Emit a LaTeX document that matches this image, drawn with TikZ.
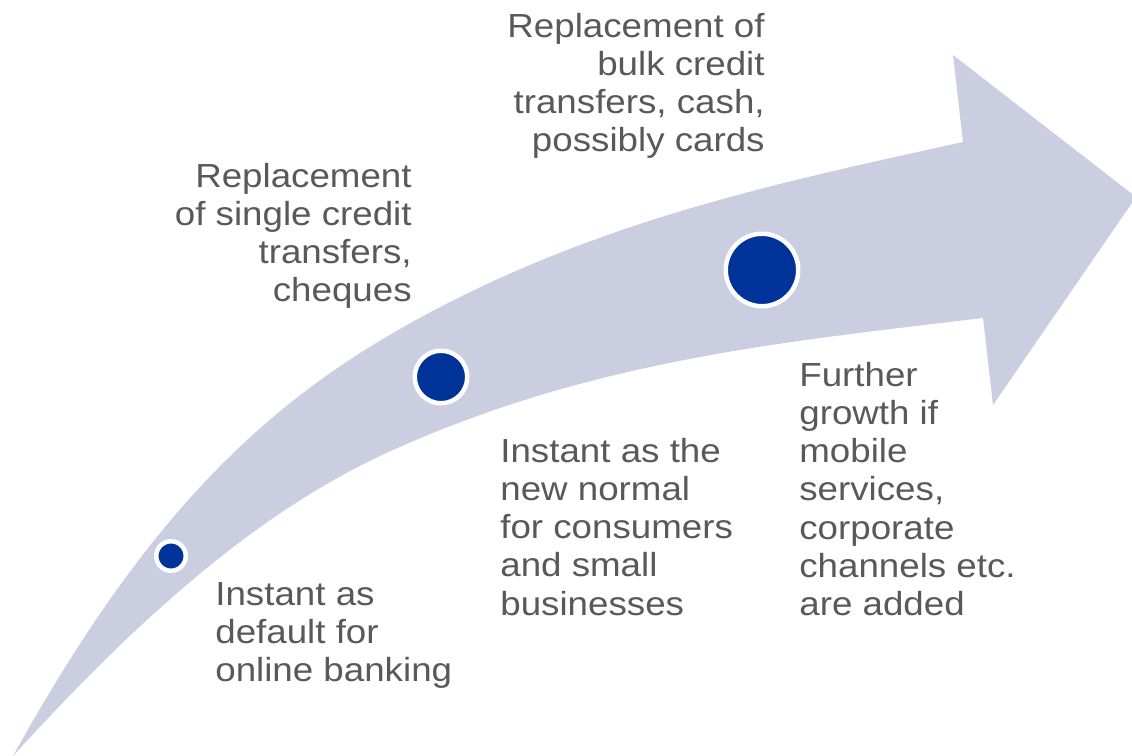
\documentclass[tikz,border=0pt]{standalone}
\usepackage{fontspec}
\setmainfont[FakeStretch=1.1]{Liberation Sans}
\definecolor{bandgray}{RGB}{203,205,224}
\definecolor{dotblue}{RGB}{0,51,153}
\definecolor{textgray}{RGB}{89,89,89}
\begin{document}
\begin{tikzpicture}[x=0.02cm, y=-0.02cm,
    label/.style={inner sep=0pt, text=textgray, font=\fontsize{19}{21.7}\selectfont},
    dot/.style={circle, fill=dotblue, draw=white, line width=0.09cm, inner sep=0pt}]
    \useasboundingbox (0,0) rectangle (1132,756);

    % Curved arrow
    \fill[bandgray] (13,756) .. controls (133,540) and (243,420) .. (393,333)
        .. controls (583,223) and (773,184) .. (963,142)
        -- (953,55) -- (1136,197) -- (993,405) -- (983,318)
        .. controls (783,342) and (593,360) .. (393,450)
        .. controls (263,508) and (143,613) .. (13,756) -- cycle;

    % Milestones
    \node[dot, minimum size=0.59cm] (first) at (171,556) {};
    \node[dot, minimum size=1.05cm] (second) at (441,377) {};
    \node[dot, minimum size=1.45cm] (third) at (762,270) {};

    % Texts above the arrow
    \node[label, align=right, anchor=north east] (singletext) at (412,163)
        {Replacement\\of single credit\\transfers,\\cheques};
    \node[label, align=right, anchor=north east] (bulktext) at (765,13)
        {Replacement of\\bulk credit\\transfers, cash,\\possibly cards};

    % Texts below the arrow
    \node[label, align=left, anchor=north west] (defaulttext) at (215,582)
        {Instant as\\default for\\online banking};
    \node[label, align=left, anchor=north west] (normaltext) at (500,438)
        {Instant as the\\new normal\\for consumers\\and small\\businesses};
    \node[label, align=left, anchor=north west] (growthtext) at (799,362)
        {Further\\growth if\\mobile\\services,\\corporate\\channels etc.\\are added};
\end{tikzpicture}
\end{document}
